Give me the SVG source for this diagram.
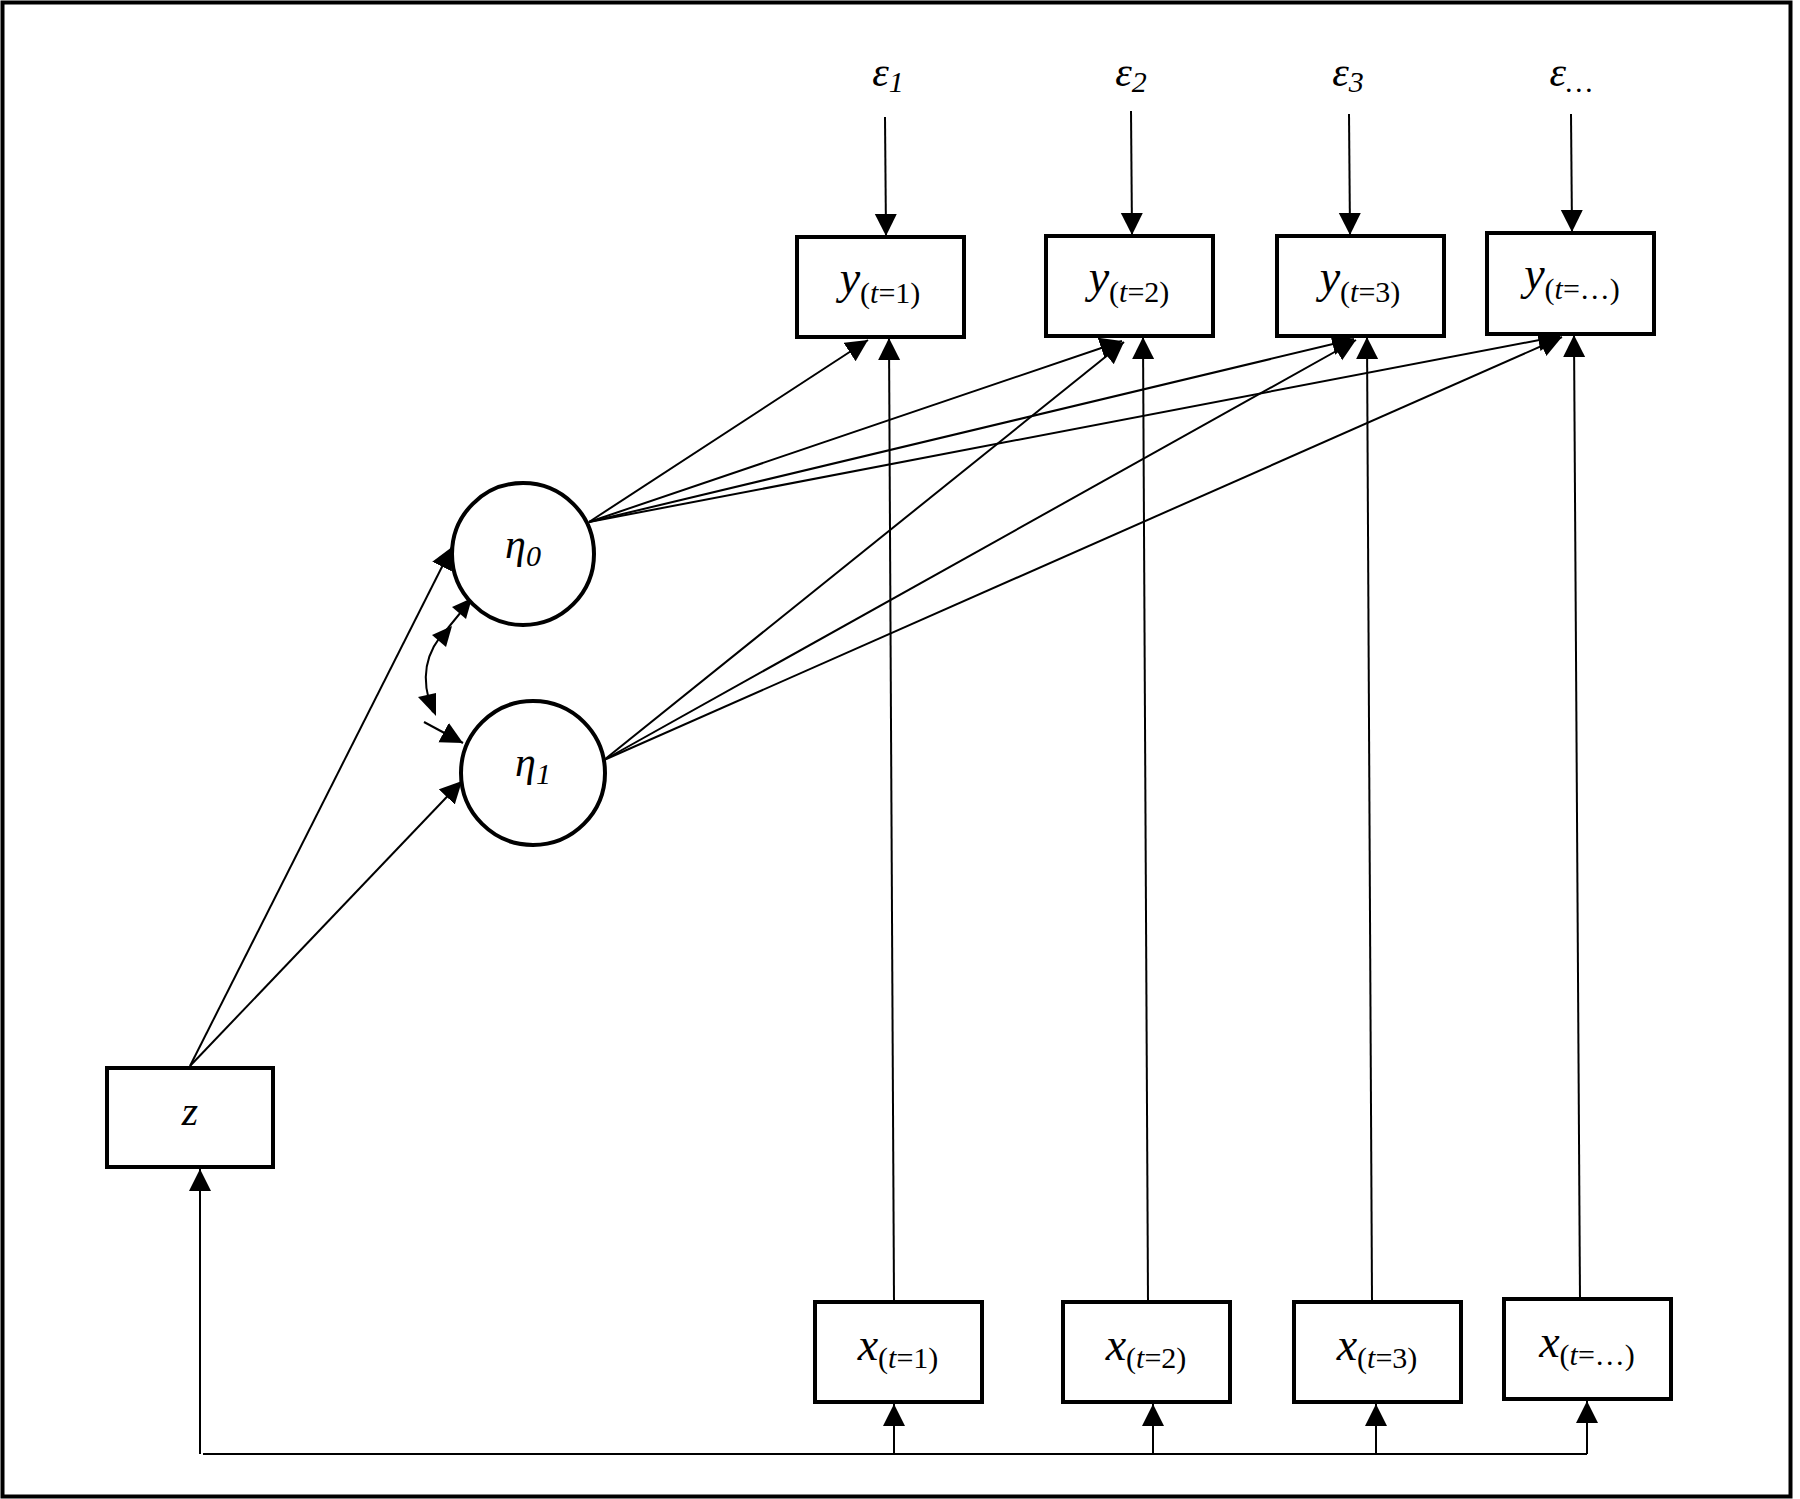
<svg xmlns="http://www.w3.org/2000/svg" width="1800" height="1499" viewBox="0 0 1800 1499">
<style>
.box{fill:#fff;stroke:#000;stroke-width:4}
.circ{fill:#fff;stroke:#000;stroke-width:4}
.ln{fill:none;stroke:#000;stroke-width:2}
.arr{marker-end:url(#ah)}
text{font-family:"Liberation Serif","Times New Roman",serif;fill:#000}
.big{font-size:46px;font-style:italic}
.sub{font-size:30px;font-style:normal}
.it{font-style:italic}
.eps{font-size:42px;font-style:italic}
.esub{font-size:30px;font-style:italic}
</style>
<defs>
<marker id="ah" markerUnits="userSpaceOnUse" markerWidth="24" markerHeight="24" refX="22" refY="11" orient="auto" viewBox="0 0 24 24">
<path d="M0,0 L22,11 L0,22 z" fill="#000"/>
</marker>
</defs>
<rect x="2.5" y="2.5" width="1788" height="1494" fill="#fff" stroke="#000" stroke-width="4"/>
<g id="connectors">
<line class="ln arr" x1="885" y1="117" x2="886" y2="236"/>
<line class="ln arr" x1="1131" y1="111" x2="1132" y2="235"/>
<line class="ln arr" x1="1349" y1="114" x2="1350" y2="235"/>
<line class="ln arr" x1="1571" y1="114" x2="1572" y2="232"/>
<line class="ln arr" x1="589" y1="522" x2="868" y2="340"/>
<line class="ln arr" x1="589" y1="522" x2="1122" y2="341"/>
<line class="ln arr" x1="589" y1="522" x2="1354" y2="339"/>
<line class="ln arr" x1="589" y1="522" x2="1560" y2="336"/>
<line class="ln arr" x1="604" y1="760" x2="1124" y2="342"/>
<line class="ln arr" x1="604" y1="760" x2="1356" y2="340"/>
<line class="ln arr" x1="604" y1="760" x2="1562" y2="337"/>
<line class="ln arr" x1="894" y1="1302" x2="889" y2="338"/>
<line class="ln arr" x1="1148" y1="1302" x2="1143" y2="337"/>
<line class="ln arr" x1="1372" y1="1302" x2="1367" y2="337"/>
<line class="ln arr" x1="1580" y1="1299" x2="1574" y2="335"/>
<line class="ln arr" x1="190" y1="1066" x2="452" y2="547"/>
<line class="ln arr" x1="190" y1="1066" x2="462" y2="781"/>
<path class="ln" d="M433,712 C420,680 424,652 448,628 L470,601"/>
<path d="M472,598 L466,619 L452,607 z" fill="#000"/>
<path d="M452,626 L446,647 L432,635 z" fill="#000"/>
<path d="M436,716 L418,697 L436,693 z" fill="#000"/>
<line class="ln arr" x1="424" y1="722" x2="463" y2="743"/>
<polyline class="ln" points="1587,1454 203,1454"/>
<line class="ln arr" x1="200" y1="1454" x2="200" y2="1169"/>
<line class="ln arr" x1="894" y1="1454" x2="894" y2="1404"/>
<line class="ln arr" x1="1153" y1="1454" x2="1153" y2="1404"/>
<line class="ln arr" x1="1376" y1="1454" x2="1376" y2="1404"/>
<line class="ln arr" x1="1587" y1="1454" x2="1587" y2="1401"/>
</g>
<g id="eps1"><text x="888" y="86" text-anchor="middle"><tspan class="eps">ε</tspan><tspan class="esub" dy="6">1</tspan></text></g>
<g id="eps2"><text x="1131" y="86" text-anchor="middle"><tspan class="eps">ε</tspan><tspan class="esub" dy="6">2</tspan></text></g>
<g id="eps3"><text x="1348" y="86" text-anchor="middle"><tspan class="eps">ε</tspan><tspan class="esub" dy="6">3</tspan></text></g>
<g id="eps4"><text x="1571" y="86" text-anchor="middle"><tspan class="eps">ε</tspan><tspan class="esub" dy="6">…</tspan></text></g>
<g id="y1"><rect class="box" x="797" y="237" width="167" height="100"/><text x="880" y="293" text-anchor="middle"><tspan class="big">y</tspan><tspan class="sub" dy="10">(<tspan class="it">t</tspan>=1)</tspan></text></g>
<g id="y2"><rect class="box" x="1046" y="236" width="167" height="100"/><text x="1129" y="292" text-anchor="middle"><tspan class="big">y</tspan><tspan class="sub" dy="10">(<tspan class="it">t</tspan>=2)</tspan></text></g>
<g id="y3"><rect class="box" x="1277" y="236" width="167" height="100"/><text x="1360" y="292" text-anchor="middle"><tspan class="big">y</tspan><tspan class="sub" dy="10">(<tspan class="it">t</tspan>=3)</tspan></text></g>
<g id="y4"><rect class="box" x="1487" y="233" width="167" height="101"/><text x="1572" y="289" text-anchor="middle"><tspan class="big">y</tspan><tspan class="sub" dy="10">(<tspan class="it">t</tspan>=…)</tspan></text></g>
<g id="eta0"><circle class="circ" cx="523" cy="554" r="71"/><text x="523" y="558" text-anchor="middle"><tspan class="eps">η</tspan><tspan class="esub" dy="8">0</tspan></text></g>
<g id="eta1"><circle class="circ" cx="533" cy="773" r="72"/><text x="533" y="776" text-anchor="middle"><tspan class="eps">η</tspan><tspan class="esub" dy="8">1</tspan></text></g>
<g id="z"><rect class="box" x="107" y="1068" width="166" height="99"/><text x="190" y="1125" text-anchor="middle" class="eps">z</text></g>
<g id="x1"><rect class="box" x="815" y="1302" width="167" height="100"/><text x="898" y="1360" text-anchor="middle"><tspan class="big">x</tspan><tspan class="sub" dy="8">(<tspan class="it">t</tspan>=1)</tspan></text></g>
<g id="x2"><rect class="box" x="1063" y="1302" width="167" height="100"/><text x="1146" y="1360" text-anchor="middle"><tspan class="big">x</tspan><tspan class="sub" dy="8">(<tspan class="it">t</tspan>=2)</tspan></text></g>
<g id="x3"><rect class="box" x="1294" y="1302" width="167" height="100"/><text x="1377" y="1360" text-anchor="middle"><tspan class="big">x</tspan><tspan class="sub" dy="8">(<tspan class="it">t</tspan>=3)</tspan></text></g>
<g id="x4"><rect class="box" x="1504" y="1299" width="167" height="100"/><text x="1587" y="1357" text-anchor="middle"><tspan class="big">x</tspan><tspan class="sub" dy="8">(<tspan class="it">t</tspan>=…)</tspan></text></g>
</svg>
